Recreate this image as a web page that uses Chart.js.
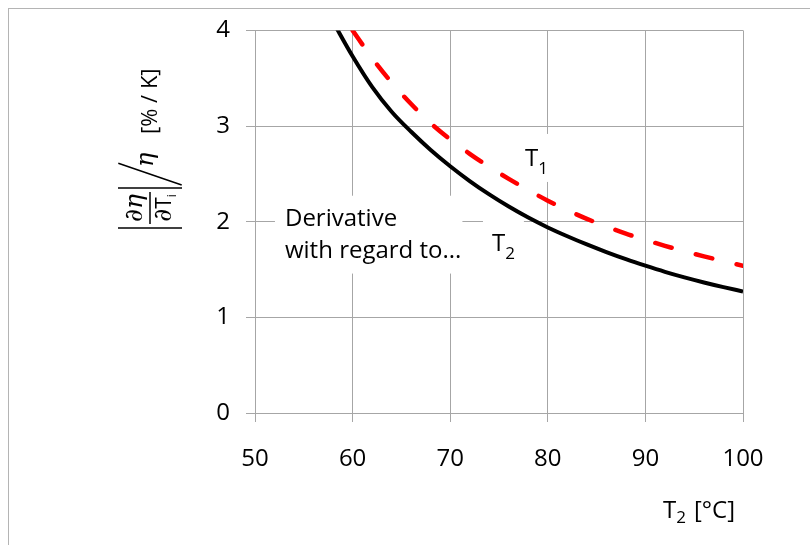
<!DOCTYPE html>
<html><head><meta charset="utf-8">
<script src="https://cdn.jsdelivr.net/npm/chart.js@4.4.1/dist/chart.umd.min.js"></script>
<style>html,body{margin:0;padding:0;background:#fff;overflow:hidden}#wrap{width:810px;height:545px}</style>
</head><body><div id="wrap"><canvas id="c" width="810" height="545"></canvas></div>
<script>
// ---- data ----
const temperatures = [58,60,62,64,66,68,70,72,74,76,78,80,82,84,86,88,90,92,94,96,98,100];
const derivWrtT2 = [4.09,3.73,3.41,3.15,2.94,2.75,2.58,2.425,2.285,2.158,2.043,1.94,1.848,1.762,1.682,1.608,1.54,1.476,1.418,1.365,1.316,1.27];
const derivWrtT1 = [null,4.00,3.71,3.455,3.23,3.03,2.86,2.71,2.573,2.448,2.33,2.22,2.12,2.03,1.95,1.875,1.81,1.748,1.691,1.638,1.588,1.54];
const xTickValues = [50,60,70,80,90,100];
const yTickValues = [0,1,2,3,4];
const seriesNames = ['T1','T2'];
const noteText = ['Derivative','with regard to...'];

// ---- annotation anchors (data coordinates) ----
const notes = {
  derivative: {x:53.07, y1:1.958, y2:1.625},
  t1: {x:77.66, y:2.583},
  t2: {x:74.28, y:1.698}
};

const FONT = '"Open Sans", "Liberation Sans", sans-serif';
const toPts = (vals) => temperatures.map((t,i)=>({x:t,y:vals[i]})).filter(p=>p.y!==null);

const deco = {
  id:'deco',
  beforeDraw(chart){
    const c = chart.ctx;
    c.save();
    c.fillStyle = '#fff';
    c.fillRect(0,0,chart.width,chart.height);
    c.strokeStyle = '#b4b4b4';
    c.lineWidth = 1;
    c.strokeRect(8.5,8.5,chart.width+40,chart.height+40);
    c.restore();
  },
  beforeDatasetsDraw(chart){
    const c = chart.ctx, xs = chart.scales.x, ys = chart.scales.y;
    c.save();
    c.font = '24px ' + FONT;
    c.textBaseline = 'alphabetic';
    c.textAlign = 'left';
    const dx = xs.getPixelForValue(notes.derivative.x);
    const b1 = ys.getPixelForValue(notes.derivative.y1);
    const b2 = ys.getPixelForValue(notes.derivative.y2);
    const w = Math.max(c.measureText(noteText[0]).width, c.measureText(noteText[1]).width);
    c.fillStyle = '#fff';
    c.fillRect(dx-10, b1-30, w+11, (b2+16)-(b1-30));
    const subLabel = (anchor, sub, draw) => {
      const x = xs.getPixelForValue(anchor.x), b = ys.getPixelForValue(anchor.y);
      c.font = '24px ' + FONT;
      const tw = c.measureText('T').width;
      c.font = '17px ' + FONT;
      const sw = c.measureText(sub).width;
      if(!draw){
        c.fillStyle = '#fff';
        c.fillRect(x-9, b-32, tw+sw+18, 48);
      } else {
        c.fillStyle = '#000';
        c.font = '24px ' + FONT;
        c.fillText('T', x, b);
        c.font = '17px ' + FONT;
        c.fillText(sub, x+tw, b+8);
      }
    };
    subLabel(notes.t1, seriesNames[0].slice(1), false);
    subLabel(notes.t2, seriesNames[1].slice(1), false);
    c.fillStyle = '#000';
    c.font = '24px ' + FONT;
    c.fillText(noteText[0], dx, b1);
    c.fillText(noteText[1], dx, b2);
    subLabel(notes.t1, seriesNames[0].slice(1), true);
    subLabel(notes.t2, seriesNames[1].slice(1), true);
    c.restore();
  },
  afterDraw(chart){
    const c = chart.ctx, a = chart.chartArea;
    c.save();
    c.fillStyle = '#000';
    c.strokeStyle = '#000';
    // x axis title: T2 [°C]
    const tx = a.right - 80, tb = a.bottom + 105;
    c.font = '24px ' + FONT;
    c.textBaseline = 'alphabetic';
    c.textAlign = 'left';
    c.fillText('T', tx, tb);
    const tw = c.measureText('T').width;
    c.font = '17px ' + FONT;
    c.fillText('2', tx+tw, tb+5);
    const sw = c.measureText('2').width;
    c.font = '24px ' + FONT;
    c.fillText('[°C]', tx+tw+sw+8, tb);

    // y axis title: |∂η/∂Ti| / η  [% / K]  rotated
    c.translate(150, 208);
    c.rotate(-Math.PI/2);
    c.lineWidth = 1.5;
    const ln = (x1,y1,x2,y2)=>{c.beginPath();c.moveTo(x1,y1);c.lineTo(x2,y2);c.stroke();};
    ln(-16,0,16,0);
    ln(-20,-32,-20,32);
    ln(20,-32,20,32);
    ln(23,31.7,44.7,-31.7);
    c.textAlign = 'center';
    c.font = 'italic 25px "DejaVu Serif", serif';
    c.fillText('∂η', 0, -8);
    c.textAlign = 'left';
    c.font = 'italic 25px "DejaVu Serif", serif';
    const dw = c.measureText('∂').width;
    c.font = '21px ' + FONT;
    const Tw = c.measureText('T').width;
    c.font = '12px ' + FONT;
    const iw = c.measureText('i').width;
    const tot = dw + Tw + iw;
    let px = -tot/2;
    c.font = 'italic 25px "DejaVu Serif", serif';
    c.fillText('∂', px, 21); px += dw;
    c.font = '21px ' + FONT;
    c.fillText('T', px, 21); px += Tw;
    c.font = '12px ' + FONT;
    c.fillText('i', px, 26);
    c.font = 'italic 24px "DejaVu Serif", serif';
    c.fillText('η', 41, 3);
    c.font = '22px ' + FONT;
    c.fillText('[% / K]', 74, 7);
    c.restore();
  }
};

new Chart(document.getElementById('c'), {
  type:'line',
  data:{
    datasets:[
      {label:seriesNames[0], data:toPts(derivWrtT1), borderColor:'#ff0000', borderWidth:4.5,
       borderDash:[17,25], borderCapStyle:'round', pointRadius:0, cubicInterpolationMode:'monotone', fill:false},
      {label:seriesNames[1], data:toPts(derivWrtT2), borderColor:'#000000', borderWidth:4,
       pointRadius:0, cubicInterpolationMode:'monotone', fill:false}
    ]
  },
  options:{
    responsive:false, animation:false, devicePixelRatio:1,
    layout:{padding:{top:29,right:67,left:0,bottom:0}},
    plugins:{legend:{display:false}, tooltip:{enabled:false}},
    scales:{
      x:{type:'linear', min:50, max:100,
         afterBuildTicks:(s)=>{s.ticks = xTickValues.map(v=>({value:v}));},
         afterFit:(s)=>{s.height=132;},
         ticks:{font:{family:FONT,size:24}, color:'#000', padding:23, maxRotation:0},
         grid:{color:'#a6a6a6', lineWidth:1, tickLength:9, drawTicks:true},
         border:{color:'#a6a6a6', width:1}},
      y:{type:'linear', min:0, max:4,
         afterBuildTicks:(s)=>{s.ticks = yTickValues.map(v=>({value:v}));},
         afterFit:(s)=>{s.width=255;},
         ticks:{font:{family:FONT,size:24}, color:'#000', padding:16},
         grid:{color:'#a6a6a6', lineWidth:1, tickLength:9, drawTicks:true},
         border:{color:'#a6a6a6', width:1}}
    }
  },
  plugins:[deco]
});
</script></body></html>
